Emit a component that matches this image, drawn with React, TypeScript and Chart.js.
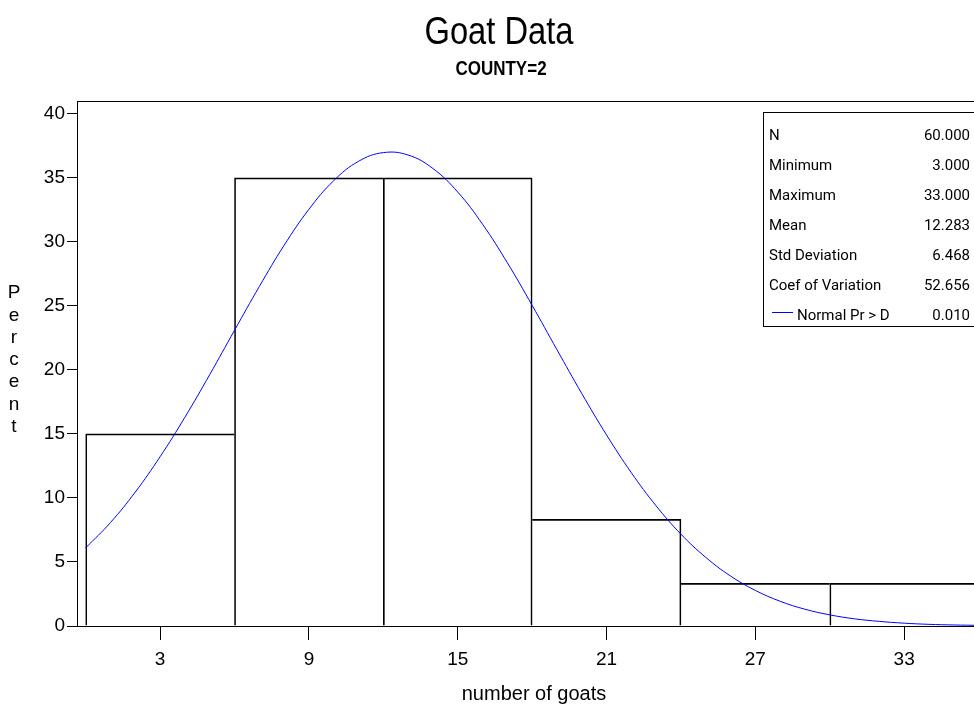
import React, { useEffect, useRef } from "react";
import { Chart, registerables } from "chart.js";

Chart.register(...registerables);

const TITLE = "Goat Data";
const SUBTITLE = "COUNTY=2";
const X_TITLE = "number of goats";
const Y_TITLE = "Percent";

const BIN_MIDPOINTS = [3, 9, 15, 21, 27, 33];
const BIN_PERCENT = [15, 35, 35, 8.333, 3.333, 3.333];
const X_TICKS = [3, 9, 15, 21, 27, 33];
const Y_TICKS = [0, 5, 10, 15, 20, 25, 30, 35, 40];

const CURVE_X = [0, 1, 2, 3, 4, 5, 6, 7, 8, 9, 10, 11, 12, 13, 14, 15, 16, 17, 18, 19, 20, 21, 22, 23, 24, 25, 26, 27, 28, 29, 30, 31, 32, 33, 34, 35, 36];
const CURVE_Y = [6.1, 8.08, 10.46, 13.22, 16.3, 19.63, 23.09, 26.51, 29.73, 32.54, 34.78, 36.29, 36.97, 36.78, 35.73, 33.89, 31.38, 28.37, 25.04, 21.58, 18.16, 14.92, 11.97, 9.38, 7.17, 5.36, 3.9, 2.78, 1.93, 1.31, 0.87, 0.56, 0.36, 0.22, 0.13, 0.08, 0.05];

const STAT_LABELS = ["N", "Minimum", "Maximum", "Mean", "Std Deviation", "Coef of Variation", "Normal Pr > D"];
const STAT_VALUES = ["60.000", "3.000", "33.000", "12.283", "6.468", "52.656", "0.010"];

const SANS = "'Liberation Sans', Arial, sans-serif";
const STAT_FONT = "15px Roboto, 'DejaVu Sans', sans-serif";

const overlayPlugin = {
  id: "overlay",
  beforeDatasetsDraw(chart: any) {
    const { ctx, chartArea } = chart;
    ctx.save();
    ctx.strokeStyle = "#000";
    ctx.lineWidth = 1;
    ctx.strokeRect(Math.round(chartArea.left) + 0.5, Math.round(chartArea.top) + 0.5,
      Math.round(chartArea.right - chartArea.left), Math.round(chartArea.bottom - chartArea.top));
    ctx.restore();
  },
  afterDraw(chart: any) {
    const { ctx } = chart;
    ctx.save();
    ctx.fillStyle = "#000";
    ctx.textAlign = "center";
    ctx.textBaseline = "alphabetic";
    ctx.save();
    ctx.translate(499, 44);
    ctx.scale(0.86, 1);
    ctx.font = `38px ${SANS}`;
    ctx.fillText(TITLE, 0, 0);
    ctx.restore();
    ctx.save();
    ctx.translate(501, 75);
    ctx.scale(0.85, 1);
    ctx.font = `bold 20px ${SANS}`;
    ctx.fillText(SUBTITLE, 0, 0);
    ctx.restore();
    ctx.font = `19px ${SANS}`;
    ctx.textBaseline = "middle";
    Y_TITLE.split("").forEach((ch, i) => {
      ctx.fillText(ch, 14, 293 + i * 22.3);
    });
    const bx = 763.5, by = 112.5, bw = 240, bh = 214;
    ctx.fillStyle = "#fff";
    ctx.fillRect(bx, by, bw, bh);
    ctx.strokeStyle = "#000";
    ctx.lineWidth = 1;
    ctx.strokeRect(bx, by, bw, bh);
    ctx.fillStyle = "#000";
    ctx.font = STAT_FONT;
    ctx.textBaseline = "middle";
    STAT_LABELS.forEach((lab, i) => {
      const y = 136 + i * 30;
      const last = i === STAT_LABELS.length - 1;
      ctx.textAlign = "left";
      if (last) {
        ctx.save();
        ctx.strokeStyle = "#0000ff";
        ctx.beginPath();
        ctx.moveTo(772, y - 3.5);
        ctx.lineTo(793, y - 3.5);
        ctx.stroke();
        ctx.restore();
        ctx.fillText(lab, 797, y);
      } else {
        ctx.fillText(lab, 769, y);
      }
      ctx.textAlign = "right";
      ctx.fillText(STAT_VALUES[i], 970, y);
    });
    ctx.restore();
  },
};

export default function App() {
  const ref = useRef<HTMLCanvasElement | null>(null);

  useEffect(() => {
    if (!ref.current) return;
    const n = BIN_PERCENT.length;
    const chart = new Chart(ref.current, {
      type: "bar",
      data: {
        datasets: [
          {
            type: "line",
            data: CURVE_X.map((x, i) => ({ x, y: CURVE_Y[i] })),
            borderColor: "#0000ff",
            borderWidth: 1,
            pointRadius: 0,
            tension: 0.4,
            fill: false,
            order: 0,
          } as any,
          {
            type: "bar",
            data: BIN_MIDPOINTS.map((x, i) => ({ x, y: BIN_PERCENT[i] })),
            backgroundColor: "rgba(0,0,0,0)",
            borderColor: "#000",
            borderWidth: (c: any) => {
              const i = c.dataIndex;
              const h = BIN_PERCENT[i];
              const left = i === 0 || BIN_PERCENT[i - 1] <= h ? 1 : 0;
              const right = i === n - 1 || BIN_PERCENT[i + 1] < h ? 1 : 0;
              return { top: 1, left, bottom: 0, right };
            },
            borderSkipped: false,
            barPercentage: 1,
            categoryPercentage: 1,
            order: 1,
          } as any,
        ],
      },
      options: {
        animation: false,
        responsive: true,
        maintainAspectRatio: false,
        layout: { padding: { top: 101, right: 7, left: 0, bottom: 0 } },
        plugins: {
          legend: { display: false },
          tooltip: { enabled: false },
          title: { display: false },
        },
        scales: {
          x: {
            type: "linear",
            offset: false,
            min: -0.35,
            max: 36.5,
            afterBuildTicks: (s: any) => {
              s.ticks = X_TICKS.map((v) => ({ value: v }));
            },
            afterFit: (s: any) => {
              s.height = 82;
            },
            grid: { offset: false, drawOnChartArea: false, drawTicks: true, tickLength: 14, color: "#000", tickWidth: 1 },
            border: { display: true, color: "#000", width: 1 },
            ticks: {
              color: "#000",
              font: { family: SANS, size: 19 },
              padding: 8,
              maxRotation: 0,
              autoSkip: false,
            },
            title: {
              display: true,
              text: X_TITLE,
              color: "#000",
              font: { family: SANS, size: 20 },
              padding: { top: 0, bottom: 2 },
            },
          },
          y: {
            type: "linear",
            min: 0,
            max: 41,
            afterBuildTicks: (s: any) => {
              s.ticks = Y_TICKS.map((v) => ({ value: v }));
            },
            afterFit: (s: any) => {
              s.width = 77;
            },
            grid: { drawOnChartArea: false, drawTicks: true, tickLength: 10, color: "#000", tickWidth: 1 },
            border: { display: true, color: "#000", width: 1 },
            ticks: {
              color: "#000",
              font: { family: SANS, size: 19 },
              padding: 2,
              autoSkip: false,
            },
          },
        },
      },
      plugins: [overlayPlugin],
    } as any);
    return () => chart.destroy();
  }, []);

  return (
    <div style={{ position: "fixed", left: 0, top: 0, width: 974, height: 708, overflow: "hidden", background: "#fff" }}>
      <div style={{ position: "relative", width: 998, height: 708 }}>
        <canvas ref={ref} />
      </div>
    </div>
  );
}
